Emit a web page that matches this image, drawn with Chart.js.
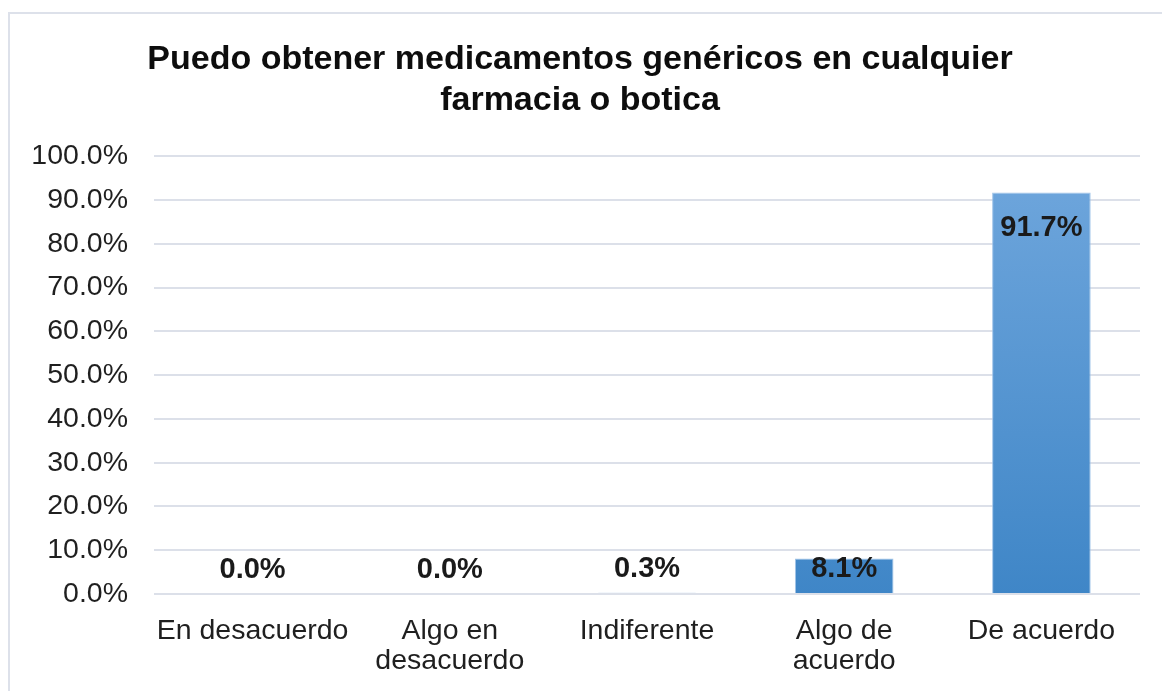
<!DOCTYPE html>
<html>
<head>
<meta charset="utf-8">
<script src="https://cdn.jsdelivr.net/npm/chart.js@4.4.0/dist/chart.umd.min.js"></script>
<style>
    html, body { margin: 0; padding: 0; background: #fff; }
    #wrap { position: relative; width: 1162px; height: 691px; overflow: hidden; }
    #frame { position: absolute; left: 8px; top: 12px; width: 1180px; height: 700px; border: 2px solid #dde1ea; }
    #chart { position: absolute; left: 0; top: 0; }
</style>
</head>
<body>
<div id="wrap">
    <div id="frame"></div>
    <canvas id="chart" width="1162" height="691"></canvas>
</div>
<script>
// ========== DADOS ==========
const categorias = ['En desacuerdo', ['Algo en', 'desacuerdo'], 'Indiferente', ['Algo de', 'acuerdo'], 'De acuerdo'];
const porcentajes = [0.0, 0.0, 0.3, 8.1, 91.7];
const tituloLineas = ['Puedo obtener medicamentos genéricos en cualquier', 'farmacia o botica'];
const ejeYMin = 0;
const ejeYMax = 100;
const ejeYPaso = 10;

const fuente = "'Liberation Sans', Arial, sans-serif";

// etiquetas de datos estilo Excel
const etiquetasDatos = {
    id: 'etiquetasDatos',
    afterDatasetsDraw(chart) {
        const ctx = chart.ctx;
        const meta = chart.getDatasetMeta(0);
        ctx.save();
        ctx.font = 'bold 29px ' + fuente;
        ctx.fillStyle = '#1a1a1a';
        ctx.textAlign = 'center';
        ctx.textBaseline = 'middle';
        meta.data.forEach(function(bar, i) {
            const y = Math.min(bar.y + 35, bar.base - 24);
            ctx.fillText(porcentajes[i].toFixed(1) + '%', bar.x, y);
        });
        ctx.restore();
    }
};

function degradado(context) {
    const chart = context.chart;
    const area = chart.chartArea;
    if (!area) return '#5b9bd5';
    const g = chart.ctx.createLinearGradient(0, area.top, 0, area.bottom);
    g.addColorStop(0, 'rgb(112, 167, 221)');
    g.addColorStop(1, 'rgb(63, 134, 199)');
    return g;
}

const grafico = new Chart(document.getElementById('chart').getContext('2d'), {
    type: 'bar',
    data: {
        labels: categorias,
        datasets: [{
            data: porcentajes,
            backgroundColor: degradado,
            borderColor: 'rgba(150, 190, 230, 0.9)',
            borderWidth: 1,
            borderSkipped: 'bottom',
            barPercentage: 0.5,
            categoryPercentage: 1.0
        }]
    },
    options: {
        responsive: false,
        animation: false,
        layout: { padding: { top: 40, right: 22, left: 20, bottom: 0 } },
        plugins: {
            legend: { display: false },
            tooltip: { enabled: false },
            title: {
                display: true,
                text: tituloLineas,
                color: '#0d0d0d',
                font: { size: 34, weight: 'bold', family: fuente, lineHeight: 1.18 },
                padding: { top: 0, bottom: 36 }
            }
        },
        scales: {
            x: {
                grid: { display: false, drawTicks: false },
                border: { display: false },
                ticks: {
                    color: '#1f1f1f',
                    font: { size: 28.5, family: fuente, lineHeight: 1.05 },
                    padding: 22,
                    maxRotation: 0,
                    autoSkip: false
                },
                afterFit: function(scale) { scale.height = 97; }
            },
            y: {
                min: ejeYMin,
                max: ejeYMax,
                grid: { color: '#dce0e9', lineWidth: 2, drawTicks: false },
                border: { display: false },
                ticks: {
                    stepSize: ejeYPaso,
                    color: '#1f1f1f',
                    font: { size: 28.5, family: fuente },
                    padding: 26,
                    callback: function(v) { return v.toFixed(1) + '%'; }
                },
                afterFit: function(scale) { scale.width = 134; }
            }
        }
    },
    plugins: [etiquetasDatos]
});
</script>
</body>
</html>
